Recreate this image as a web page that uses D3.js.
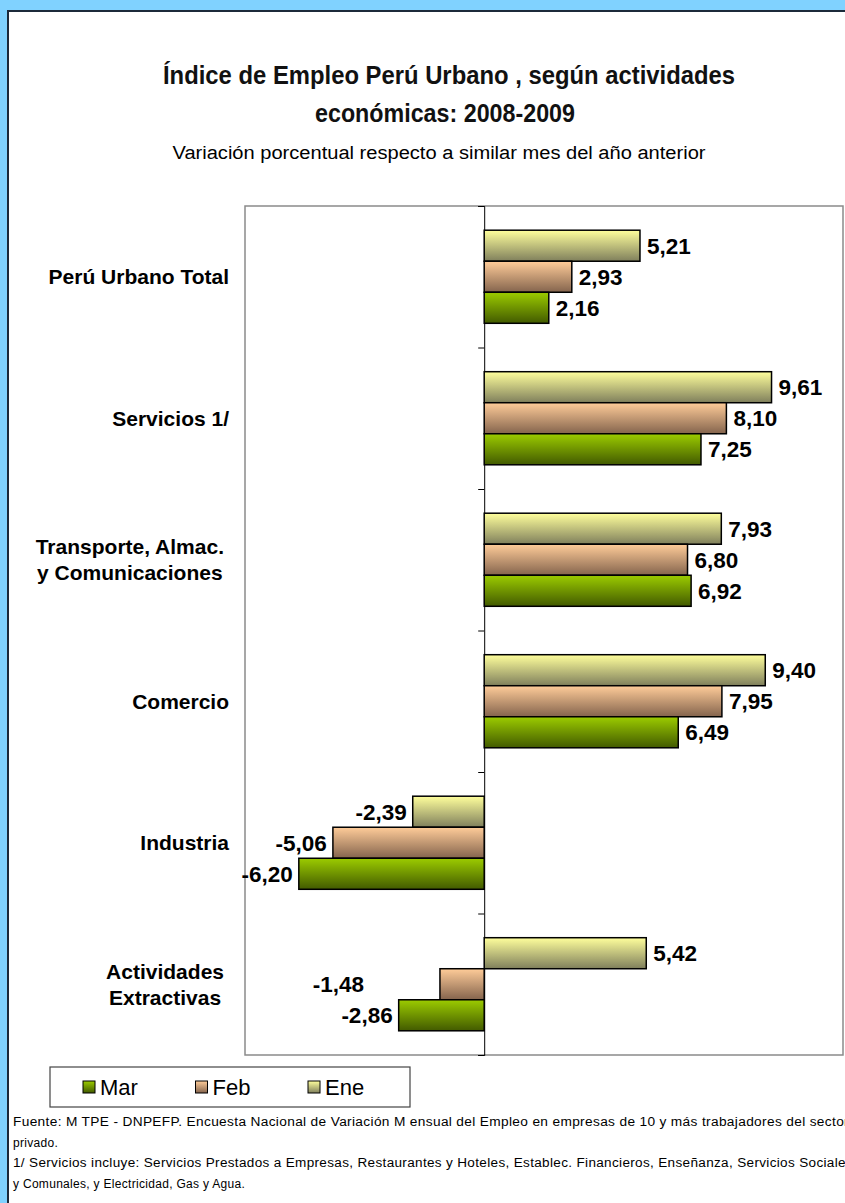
<!DOCTYPE html>
<html>
<head>
<meta charset="utf-8">
<script src="https://cdn.jsdelivr.net/npm/d3@7"></script>
<style>
  html, body { margin: 0; padding: 0; background: #80d2ff; }
  svg { display: block; }
</style>
</head>
<body>
<div class="canvas"></div>
<script>
const categories = [
    ['Perú Urbano Total'],
    ['Servicios 1/'],
    ['Transporte, Almac.', 'y Comunicaciones'],
    ['Comercio'],
    ['Industria'],
    ['Actividades', 'Extractivas']
]
const series = ['Ene', 'Feb', 'Mar']
const ene = [5.21, 9.61, 7.93, 9.40, -2.39, 5.42]
const feb = [2.93, 8.10, 6.80, 7.95, -5.06, -1.48]
const mar = [2.16, 7.25, 6.92, 6.49, -6.20, -2.86]
const legendOrder = ['Mar', 'Feb', 'Ene']
const footnotes = [
    'Fuente: M TPE - DNPEFP.  Encuesta Nacional de Variación M ensual del Empleo en empresas de 10 y más trabajadores del sector',
    'privado.',
    '1/ Servicios incluye: Servicios Prestados a Empresas, Restaurantes y Hoteles, Establec. Financieros, Enseñanza, Servicios Sociales',
    'y Comunales, y Electricidad, Gas y Agua.'
]

const dims = { width: 845, height: 1203 }
const plot = { left: 245, right: 843, top: 206, bottom: 1055 }
const narrow = '"Liberation Sans Narrow", "Arial Narrow", "Liberation Sans", Arial, sans-serif'
const sans = '"Liberation Sans", Arial, sans-serif'

const colours = {
    Ene: ['#ffff9c', '#7f7f5c'],
    Feb: ['#ffcc99', '#84644d'],
    Mar: ['#9ccc00', '#425a00']
}
const values = { Ene: ene, Feb: feb, Mar: mar }

const locale = d3.formatLocale({ decimal: ',', thousands: '.', grouping: [3], currency: ['', ''], minus: '-' })
const fmt = locale.format('.2f')

const svg = d3.select('.canvas')
    .append('svg')
    .attr('width', dims.width)
    .attr('height', dims.height)

// gradients for bars and legend keys
const defs = svg.append('defs')
series.forEach(s => {
    const g = defs.append('linearGradient')
        .attr('id', 'grad-' + s)
        .attr('x1', 0).attr('y1', 0).attr('x2', 0).attr('y2', 1)
    g.append('stop').attr('offset', '0%').attr('stop-color', colours[s][0])
    g.append('stop').attr('offset', '100%').attr('stop-color', colours[s][1])
})

// white panel with dark frame
svg.append('rect')
    .attr('x', 8).attr('y', 11)
    .attr('width', 900).attr('height', 1300)
    .attr('fill', '#fff')
    .attr('stroke', '#1c2a3a')
    .attr('stroke-width', 2)

// titles
svg.append('text')
    .attr('x', 449).attr('y', 84)
    .attr('text-anchor', 'middle')
    .attr('font-family', narrow)
    .attr('font-weight', 'bold')
    .attr('font-size', 26)
    .attr('textLength', 572)
    .attr('lengthAdjust', 'spacingAndGlyphs')
    .attr('fill', '#111')
    .text('Índice de Empleo Perú Urbano , según actividades')

svg.append('text')
    .attr('x', 445).attr('y', 122)
    .attr('text-anchor', 'middle')
    .attr('font-family', narrow)
    .attr('font-weight', 'bold')
    .attr('font-size', 26)
    .attr('textLength', 260)
    .attr('lengthAdjust', 'spacingAndGlyphs')
    .attr('fill', '#111')
    .text('económicas: 2008-2009')

svg.append('text')
    .attr('x', 439).attr('y', 159)
    .attr('text-anchor', 'middle')
    .attr('font-family', narrow)
    .attr('font-size', 18)
    .attr('textLength', 533)
    .attr('lengthAdjust', 'spacingAndGlyphs')
    .text('Variación porcentual respecto a similar mes del año anterior')

// scales
const x = d3.scaleLinear()
    .domain([-8, 12])
    .range([plot.left, plot.right])

const y0 = d3.scaleBand()
    .domain(d3.range(categories.length))
    .range([plot.top, plot.bottom])

const y1 = d3.scaleBand()
    .domain(series)
    .range([0, y0.bandwidth()])
    .paddingOuter(0.78)

// plot area
svg.append('rect')
    .attr('x', plot.left).attr('y', plot.top)
    .attr('width', plot.right - plot.left)
    .attr('height', plot.bottom - plot.top)
    .attr('fill', 'none')
    .attr('stroke', '#8a8a8a')
    .attr('stroke-width', 1.5)

// zero axis with category tick marks
const tickScale = d3.scaleLinear()
    .domain([0, categories.length])
    .range([plot.top, plot.bottom])

svg.append('g')
    .attr('transform', `translate(${x(0)},0)`)
    .call(d3.axisLeft(tickScale).ticks(categories.length).tickFormat('').tickSize(6).tickSizeOuter(6))
    .call(g => g.selectAll('line, path').attr('stroke', '#000'))

// bars
const rows = categories.map((c, i) => ({ i, bars: series.map(s => ({ s, v: values[s][i] })) }))

const groups = svg.append('g').selectAll('g')
    .data(rows)
    .enter()
    .append('g')
    .attr('transform', d => `translate(0,${y0(d.i)})`)

groups.selectAll('rect')
    .data(d => d.bars)
    .enter()
    .append('rect')
    .attr('x', d => x(Math.min(0, d.v)))
    .attr('y', d => y1(d.s))
    .attr('width', d => Math.abs(x(d.v) - x(0)))
    .attr('height', y1.bandwidth())
    .attr('fill', d => `url(#grad-${d.s})`)
    .attr('stroke', '#000')
    .attr('stroke-width', 1.5)

// value labels (one hand-moved label in the original)
const nudge = { '5-Feb': { dx: -70, dy: 0 } }

groups.selectAll('text')
    .data(d => d.bars.map(b => ({ ...b, i: d.i })))
    .enter()
    .append('text')
    .attr('x', d => {
        const n = nudge[d.i + '-' + d.s]
        const base = d.v >= 0 ? x(d.v) + 7 : x(d.v) - 6
        return base + (n ? n.dx : 0)
    })
    .attr('y', d => y1(d.s) + y1.bandwidth() / 2)
    .attr('dy', '0.36em')
    .attr('text-anchor', d => d.v >= 0 ? 'start' : 'end')
    .attr('font-family', sans)
    .attr('font-weight', 'bold')
    .attr('font-size', 22.5)
    .text(d => fmt(d.v))

// category labels: multi-line ones are centred on each other, right edge near the plot
const catLabels = svg.append('g').selectAll('text')
    .data(categories)
    .enter()
    .append('text')
    .attr('y', (d, i) => y0(i) + y0.bandwidth() / 2 - (d.length - 1) * 13)
    .attr('text-anchor', 'middle')
    .attr('font-family', sans)
    .attr('font-weight', 'bold')
    .attr('font-size', 21)

catLabels.selectAll('tspan')
    .data(d => d)
    .enter()
    .append('tspan')
    .attr('dy', (d, i) => i === 0 ? '0.36em' : 26)
    .text(d => d)

catLabels.each(function (d) {
    const spans = d3.select(this).selectAll('tspan')
    const w = d3.max(spans.nodes(), n => n.getComputedTextLength())
    const right = d.length > 1 ? 224 : 229
    spans.attr('x', right - w / 2)
})

// legend
const legend = svg.append('g').attr('transform', 'translate(50,1067)')
legend.append('rect')
    .attr('width', 360).attr('height', 40)
    .attr('fill', '#fff')
    .attr('stroke', '#444')
    .attr('stroke-width', 1.2)

const legendX = d3.scalePoint()
    .domain(legendOrder)
    .range([33, 258])

const items = legend.selectAll('g.item')
    .data(legendOrder)
    .enter()
    .append('g')
    .attr('class', 'item')
    .attr('transform', d => `translate(${legendX(d)},20)`)

items.append('rect')
    .attr('x', 0).attr('y', -6)
    .attr('width', 12).attr('height', 12)
    .attr('fill', d => `url(#grad-${d})`)
    .attr('stroke', '#000')
    .attr('stroke-width', 1)

items.append('text')
    .attr('x', 17)
    .attr('dy', '0.36em')
    .attr('font-family', sans)
    .attr('font-size', 22)
    .text(d => d)

// footnotes
const fnLengths = [836, null, 840, null]
svg.append('g').selectAll('text')
    .data(footnotes)
    .enter()
    .append('text')
    .attr('x', 13)
    .attr('y', (d, i) => 1122 + i * 20.5)
    .attr('dy', '0.36em')
    .attr('font-family', sans)
    .attr('font-size', 12)
    .attr('letter-spacing', 0.3)
    .each(function (d, i) {
        if (fnLengths[i]) d3.select(this).attr('textLength', fnLengths[i]).attr('lengthAdjust', 'spacingAndGlyphs')
    })
    .text(d => d)
</script>
</body>
</html>
